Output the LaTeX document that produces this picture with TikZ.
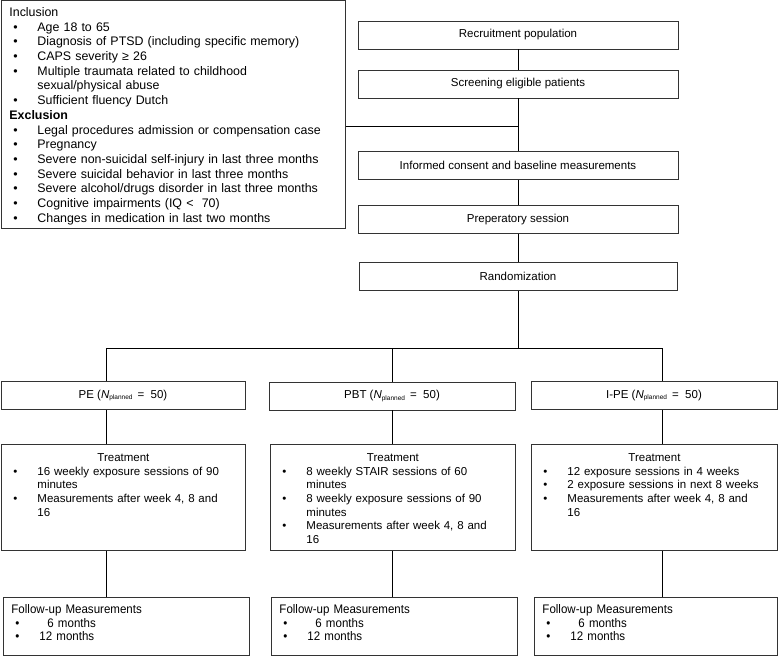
\documentclass[tikz,border=0pt]{standalone}
\usepackage{fontspec}
\setmainfont{Liberation Sans}
\newfontfamily\narrowfont[FakeStretch=0.93]{Liberation Sans}
\usetikzlibrary{positioning}

\tikzset{
  box/.style={rectangle, draw=black!80, line width=0.9pt, inner sep=0pt, minimum height=28pt, minimum width=320pt},
  listbox/.style={rectangle, draw=black!80, line width=0.9pt, anchor=north west, inner xsep=8pt, inner ysep=0pt, align=left},
  link/.style={draw=black, line width=0.9pt}
}
\newcommand{\bul}{\makebox[28pt][l]{\hspace{4pt}\textbullet}}
\newcommand{\cont}{\hspace*{28pt}}
\newcommand{\nplan}{(\textit{N}\raisebox{-1.5pt}{\fontsize{6.5}{7}\selectfont planned} \,=\ \ 50)}
\newcommand{\first}[1]{\rule{0pt}{#1}}

\begin{document}
\begin{tikzpicture}[x=1pt, y=1pt, font=\fontsize{11.5}{13.7}\selectfont]
    \useasboundingbox (0,0) rectangle (778,-656);

    % criteria
    \node[listbox, text width=328pt, font=\fontsize{12.4}{14.7}\selectfont] (1) at (1,0) {\parbox[t][228pt][t]{\linewidth}{\first{16pt}Inclusion\\
        \bul Age 18 to 65\\
        \bul Diagnosis of PTSD (including specific memory)\\
        \bul CAPS severity ≥ 26\\
        \bul Multiple traumata related to childhood\\
        \cont sexual/physical abuse\\
        \bul Sufficient fluency Dutch\\
        \textbf{Exclusion}\\
        \bul Legal procedures admission or compensation case\\
        \bul Pregnancy\\
        \bul Severe non-suicidal self-injury in last three months\\
        \bul Severe suicidal behavior in last three months\\
        \bul Severe alcohol/drugs disorder in last three months\\
        \bul Cognitive impairments (IQ <\ \ 70)\\
        \bul Changes in medication in last two months}};

    % main steps
    \node[box] (2) at (518,-35) {Recruitment population};
    \node[box] (3) at (518,-84) {Screening eligible patients};
    \node[box] (4) at (518,-165.5) {Informed consent and baseline measurements};
    \node[box] (5) at (518,-219.5) {Preperatory session};
    \node[box, minimum width=318pt] (6) at (518,-276.5) {Randomization};

    % arms
    \node[box, minimum width=244pt] (7) at (123,-395.5) {PE \nplan};
    \node[box, minimum width=246pt] (8) at (392,-396) {PBT \nplan};
    \node[box, minimum width=246pt] (9) at (654,-395.5) {I-PE \nplan};

    % treatment
    \node[listbox, text width=228pt] (10) at (1,-444) {\parbox[t][106pt][t]{\linewidth}{\first{17pt}\makebox[\linewidth]{Treatment}\\
        \bul 16 weekly exposure sessions of 90\\
        \cont minutes\\
        \bul Measurements after week 4, 8 and\\
        \cont 16}};
    \node[listbox, text width=229pt] (11) at (270,-444) {\parbox[t][106pt][t]{\linewidth}{\first{17pt}\makebox[\linewidth]{Treatment}\\
        \bul 8 weekly STAIR sessions of 60\\
        \cont minutes\\
        \bul 8 weekly exposure sessions of 90\\
        \cont minutes\\
        \bul Measurements after week 4, 8 and\\
        \cont 16}};
    \node[listbox, text width=230pt] (12) at (531,-444) {\parbox[t][106pt][t]{\linewidth}{\first{17pt}\makebox[\linewidth]{Treatment}\\
        \bul 12 exposure sessions in 4 weeks\\
        \bul 2 exposure sessions in next 8 weeks\\
        \bul Measurements after week 4, 8 and\\
        \cont 16}};

    % follow-up
    \node[listbox, text width=230pt, font=\narrowfont\fontsize{12.4}{13.6}\selectfont] (13) at (3,-597) {\parbox[t][58pt][t]{\linewidth}{\first{16pt}Follow-up Measurements\\
        \bul\hspace{8pt}6 months\\
        \bul 12 months}};
    \node[listbox, text width=230pt, font=\narrowfont\fontsize{12.4}{13.6}\selectfont] (14) at (271,-597) {\parbox[t][58pt][t]{\linewidth}{\first{16pt}Follow-up Measurements\\
        \bul\hspace{8pt}6 months\\
        \bul 12 months}};
    \node[listbox, text width=227pt, font=\narrowfont\fontsize{12.4}{13.6}\selectfont] (15) at (534,-597) {\parbox[t][58pt][t]{\linewidth}{\first{16pt}Follow-up Measurements\\
        \bul\hspace{8pt}6 months\\
        \bul 12 months}};

    \coordinate (c1) at (518,-126);
    \coordinate (b1) at (106,-348);
    \coordinate (b2) at (392,-348);
    \coordinate (b3) at (662,-348);

    \draw[link] (2) -- (3);
    \draw[link] (3) -- (4);
    \draw[link] (1.east |- c1) -- (c1);
    \draw[link] (4) -- (5);
    \draw[link] (5) -- (6);
    \draw[link] (6.south) -- (6.south |- b1);
    \draw[link] (b1) -- (b3);
    \foreach \b/\g/\t/\f in {b1/7/10/13, b2/8/11/14, b3/9/12/15} {
        \draw[link] (\b) -- (\b |- \g.north);
        \draw[link] (\b |- \g.south) -- (\b |- \t.north);
        \draw[link] (\b |- \t.south) -- (\b |- \f.north);
    }
\end{tikzpicture}
\end{document}
